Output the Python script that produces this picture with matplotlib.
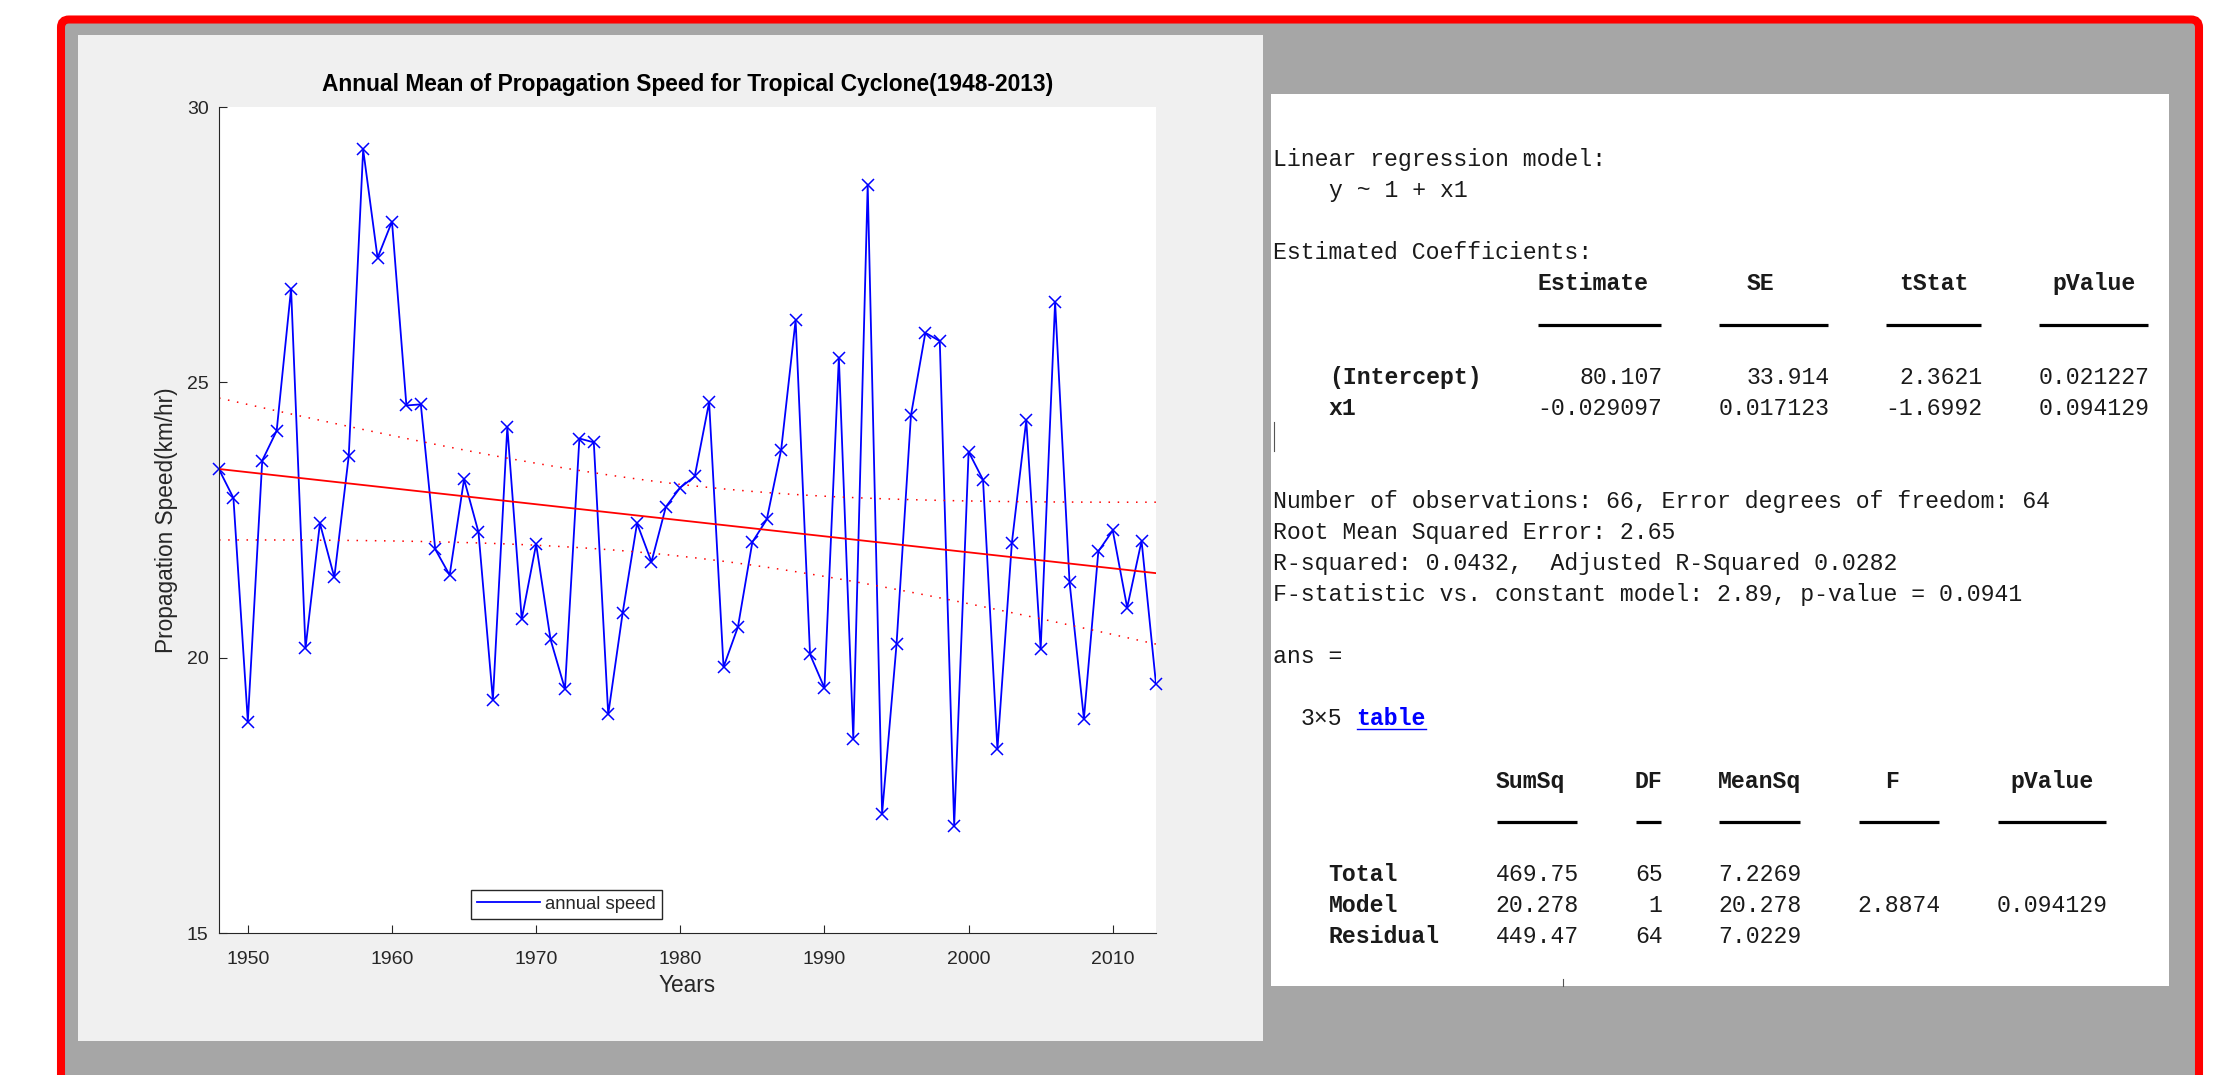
"""MATLAB screenshot: propagation speed trend plus fitlm / anova console output."""
import numpy as np
import matplotlib
matplotlib.use('Agg')
from matplotlib import pyplot as plt
from matplotlib.patches import Rectangle, FancyBboxPatch

W, H = 2226, 1075

# annual mean propagation speed (km/hr)
years = np.arange(1948, 2014)
speed = [23.42, 22.90, 18.84, 23.58, 24.12, 26.70, 20.17, 22.44, 21.46, 23.66,
         29.23, 27.26, 27.92, 24.58, 24.60, 21.97, 21.50, 23.24, 22.28, 19.23,
         24.19, 20.70, 22.06, 20.33, 19.43, 23.98, 23.91, 18.97, 20.81, 22.44,
         21.74, 22.74, 23.09, 23.29, 24.64, 19.83, 20.56, 22.10, 22.51, 23.78,
         26.13, 20.06, 19.45, 25.45, 18.53, 28.59, 17.17, 20.24, 24.40, 25.90,
         25.75, 16.95, 23.74, 23.23, 18.34, 22.08, 24.31, 20.16, 26.46, 21.38,
         18.89, 21.93, 22.31, 20.91, 22.12, 19.52]

# fitlm output
intercept = 80.107
slope = -0.029097
rmse = 2.65
tcrit = 1.998   # t(0.975, 64)

coef_names = ['(Intercept)', 'x1']
coef_est = ['80.107', '-0.029097']
coef_se = ['33.914', '0.017123']
coef_t = ['2.3621', '-1.6992']
coef_p = ['0.021227', '0.094129']

summary_lines = ['Number of observations: 66, Error degrees of freedom: 64',
                 'Root Mean Squared Error: 2.65',
                 'R-squared: 0.0432,  Adjusted R-Squared 0.0282',
                 'F-statistic vs. constant model: 2.89, p-value = 0.0941']

anova_names = ['Total', 'Model', 'Residual']
anova_ss = ['469.75', '20.278', '449.47']
anova_df = ['65', '1', '64']
anova_ms = ['7.2269', '20.278', '7.0229']
anova_f = ['', '2.8874', '']
anova_p = ['', '0.094129', '']

# ---- figure / screenshot background ----
fig = plt.figure(figsize=(W / 100, H / 100), dpi=100)
fig.patch.set_facecolor('white')
bg = fig.add_axes([0, 0, 1, 1])
bg.set_xlim(0, W)
bg.set_ylim(H, 0)
bg.axis('off')
bg.add_patch(FancyBboxPatch((61, 19.5), 2199 - 61, 1200,
                            boxstyle='round,pad=0,rounding_size=8',
                            fc='#a6a6a6', ec='#ff0000', lw=5.8))
bg.add_patch(Rectangle((78, 35), 1263 - 78, 1041 - 35, fc='#f0f0f0', ec='none'))
bg.add_patch(Rectangle((1271, 94), 2169 - 1271, 986 - 94, fc='white', ec='none'))

# ---- the plot ----
ax = fig.add_axes([219 / W, 1 - 933 / H, 937 / W, 826 / H])
ax.set_zorder(2)
ax.set_facecolor('white')

yr = years.astype(float)
fit = intercept + slope * yr
xm = yr.mean()
half = tcrit * rmse * np.sqrt(1 / len(yr) + (yr - xm) ** 2 / np.sum((yr - xm) ** 2))

ax.plot(years, speed, color='#0000ff', lw=1.3, label='annual speed')
ax.plot(years, speed, ls='none', marker='x', ms=8.5, mew=1.1, color='#0000ff',
        clip_on=False)
ax.plot(years, fit, color='#ff0000', lw=1.3)
ax.plot(years, fit + half, color='#ff0000', lw=1.1, ls=(0, (1, 5)))
ax.plot(years, fit - half, color='#ff0000', lw=1.1, ls=(0, (1, 5)))

ax.set_xlim(1948, 2013)
ax.set_ylim(15, 30)
ax.set_xticks(np.arange(1950, 2011, 10))
ax.set_yticks([15, 20, 25, 30])
for s in ['top', 'right']:
    ax.spines[s].set_visible(False)
for s in ['left', 'bottom']:
    ax.spines[s].set_color('#262626')
    ax.spines[s].set_linewidth(0.8)
ax.tick_params(direction='in', length=6, width=0.8, color='#262626',
               labelcolor='#262626', labelsize=14, labelfontfamily='Liberation Sans')
ax.tick_params(axis='x', pad=13)
ax.tick_params(axis='y', pad=7.5)

ax.set_title('Annual Mean of Propagation Speed for Tropical Cyclone(1948-2013)',
             fontsize=16.35, fontweight='bold', family='Liberation Sans',
             y=1 + (107 - 85) / 826, pad=0, va='center', color='black')
ax.set_xlabel('Years', fontsize=16.3, family='Liberation Sans', color='#262626',
              va='center')
ax.xaxis.set_label_coords(0.5, -(985 - 933) / 826)
ax.set_ylabel('Propagation Speed(km/hr)', fontsize=16.3, family='Liberation Sans',
              color='#262626', va='center')
ax.yaxis.set_label_coords((166 - 219) / 937, 0.5)

leg = ax.legend(loc='lower left', bbox_to_anchor=(471 / W, 1 - 919 / H),
                bbox_transform=fig.transFigure, borderaxespad=0,
                prop={'family': 'Liberation Sans', 'size': 13.3},
                labelcolor='#262626', frameon=True, fancybox=False,
                edgecolor='#262626', framealpha=1, handlelength=3.4,
                handletextpad=0.3, borderpad=0.33)
leg.get_frame().set_linewidth(1.0)

# ---- console text ----
x0 = 1273.0
cw = 0.6 * 16.7 * 100 / 72
y0 = 159.0
dy = 31.08
mono = 'Liberation Mono'
ink = '#1a1a1a'


def put(col, line, s, bold=False, color=ink):
    bg.text(x0 + col * cw, y0 + line * dy + 7, s, family=mono, fontsize=16.7,
            fontweight='bold' if bold else 'normal', color=color,
            ha='left', va='baseline')


def put_right(end, line, s):
    put(end - len(s), line, s)


def rule(col, w, y):
    # bold underscore run, as the console draws it
    bg.plot([x0 + col * cw + 1, x0 + (col + w) * cw - 2], [y, y],
            color='black', lw=2.3, solid_capstyle='butt')


put(0, 0, 'Linear regression model:')
put(4, 1, 'y ~ 1 + x1')
put(0, 3, 'Estimated Coefficients:')
for col, name in zip([19, 34, 45, 56], ['Estimate', 'SE', 'tStat', 'pValue']):
    put(col, 4, name, bold=True)
for col, w in zip([19, 32, 44, 55], [9, 8, 7, 8]):
    rule(col, w, 325)
for i in range(len(coef_names)):
    put(4, 7 + i, coef_names[i], bold=True)
    put_right(28, 7 + i, coef_est[i])
    put_right(40, 7 + i, coef_se[i])
    put_right(51, 7 + i, coef_t[i])
    put_right(63, 7 + i, coef_p[i])
bg.plot([1273.5, 1273.5], [422, 451], color='#555555', lw=0.8)

for i, s in enumerate(summary_lines):
    put(0, 11 + i, s)

put(0, 16, 'ans =')
put(2, 18, '3×5')
put(6, 18, 'table', bold=True, color='#0000ff')
bg.plot([x0 + 6 * cw, x0 + 11 * cw], [728.5, 728.5], color='#0000ff', lw=1.0)

for col, name in zip([16, 26, 32, 44, 53], ['SumSq', 'DF', 'MeanSq', 'F', 'pValue']):
    put(col, 20, name, bold=True)
for col, w in zip([16, 26, 32, 42, 52], [6, 2, 6, 6, 8]):
    rule(col, w, 822)
for i in range(len(anova_names)):
    put(4, 23 + i, anova_names[i], bold=True)
    put_right(22, 23 + i, anova_ss[i])
    put_right(28, 23 + i, anova_df[i])
    put_right(38, 23 + i, anova_ms[i])
    put_right(48, 23 + i, anova_f[i])
    put_right(60, 23 + i, anova_p[i])
bg.plot([1563, 1563], [979, 986], color='#555555', lw=0.8)

fig.savefig('out.png', dpi=100, facecolor=fig.get_facecolor())
